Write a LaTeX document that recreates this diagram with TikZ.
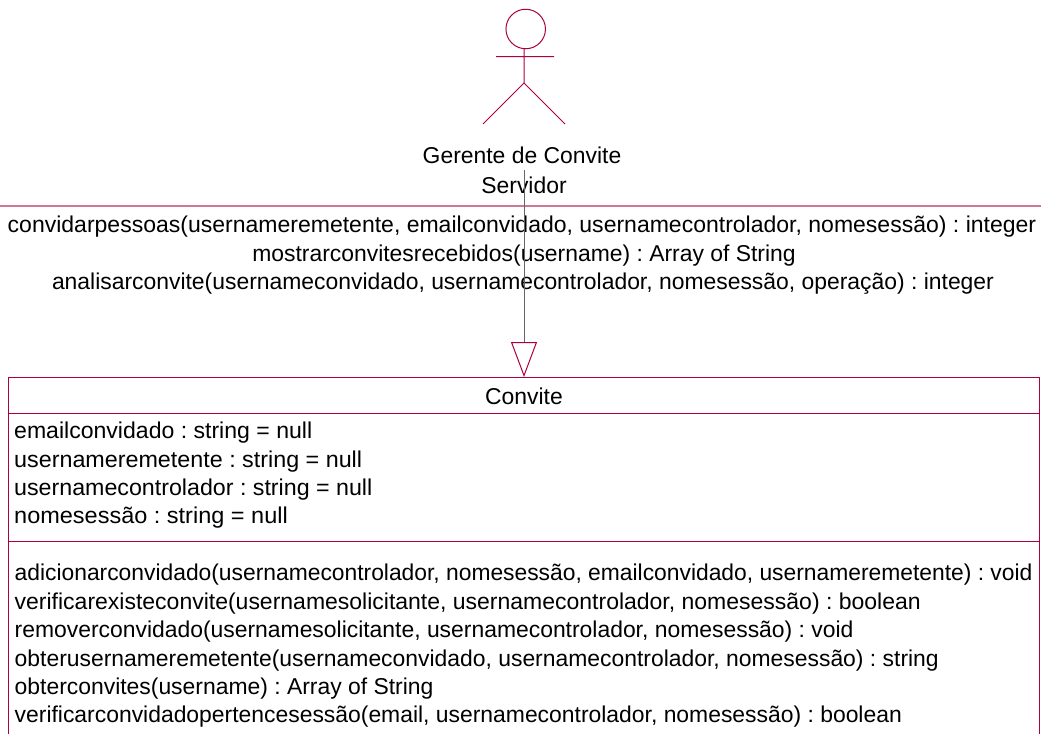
\documentclass[tikz,border=0pt]{standalone}
\usepackage{fontspec}
\usepackage{graphicx}
\setmainfont{Liberation Sans}
\usetikzlibrary{arrows.meta}
\definecolor{umlred}{RGB}{173,0,66}
\definecolor{softred}{RGB}{205,120,150}
\newcommand{\uf}{\frenchspacing\fontsize{22.9}{23}\selectfont}
\tikzset{
  x=1pt,y=-1pt,
  shapeline/.style={draw=umlred,line width=1pt},
  softline/.style={draw=softred,line width=1.3pt},
  txt/.style={inner sep=0pt,font=\uf,text=black,anchor=base},
  ltxt/.style={inner sep=0pt,font=\uf,text=black,anchor=base west},
  link/.style={draw=black!60,line width=1pt,-{Triangle[open,length=35pt,width=26pt,color=umlred,fill=white,line width=1pt]}}
}
\begin{document}
\begin{tikzpicture}
\useasboundingbox (0,0) rectangle (1041,734);
% actor
\node[circle,draw=umlred,line width=1pt,minimum size=39.5pt,inner sep=0pt] (head) at (525.7,29) {};
\coordinate (neck) at (524,49);
\coordinate (hip) at (524,83);
\coordinate (armL) at (496,56.5);
\coordinate (armR) at (554,56.5);
\coordinate (footL) at (483,124);
\coordinate (footR) at (565,124);
\draw[shapeline] (neck) -- (hip) (armL) -- (armR) (footL) -- (hip) -- (footR);
\node[txt] (actorname) at (522,163) {Gerente de Convite};
% Servidor (interface)
\node[txt] (srvname) at (524,193.5) {Servidor};
\coordinate (srvL) at (0,206);
\coordinate (srvR) at (1041,206);
\draw[softline] (srvL) -- (srvR);
\node[txt] (m1) at (522,232) {\scalebox{1.005}[1]{convidarpessoas(usernameremetente, emailconvidado, usernamecontrolador, nomesessão) : integer}};
\node[txt] (m2) at (524,261) {mostrarconvitesrecebidos(username) : Array of String};
\node[txt] (m3) at (523,289.5) {analisarconvite(usernameconvidado, usernamecontrolador, nomesessão, operação) : integer};
% class box
\coordinate (tl) at (8,734);
\coordinate (tt) at (8,377);
\coordinate (tr) at (1039,377);
\coordinate (br) at (1039,734);
\draw[shapeline] (tl) -- (tt) -- (tr) -- (br);
\coordinate (s1L) at (8,413);
\coordinate (s1R) at (1039,413);
\coordinate (s2L) at (8,541);
\coordinate (s2R) at (1039,541);
\draw[shapeline] (s1L) -- (s1R) (s2L) -- (s2R);
\node[txt] (cname) at (524,404.5) {Convite};
\node[ltxt] (a1) at (14,438.5) {\scalebox{1.007}[1]{emailconvidado : string = null}};
\node[ltxt] (a2) at (14,467) {\scalebox{1.018}[1]{usernameremetente : string = null}};
\node[ltxt] (a3) at (14,495.5) {\scalebox{1.014}[1]{usernamecontrolador : string = null}};
\node[ltxt] (a4) at (14,523.5) {\scalebox{1.026}[1]{nomesessão : string = null}};
\node[ltxt] (o1) at (14.5,580.5) {\scalebox{0.997}[1]{adicionarconvidado(usernamecontrolador, nomesessão, emailconvidado, usernameremetente) : void}};
\node[ltxt] (o2) at (14.5,609) {\scalebox{1.004}[1]{verificarexisteconvite(usernamesolicitante, usernamecontrolador, nomesessão) : boolean}};
\node[ltxt] (o3) at (14.5,637.5) {removerconvidado(usernamesolicitante, usernamecontrolador, nomesessão) : void};
\node[ltxt] (o4) at (14.5,666) {obterusernameremetente(usernameconvidado, usernamecontrolador, nomesessão) : string};
\node[ltxt] (o5) at (14.5,694.5) {obterconvites(username) : Array of String};
\node[ltxt] (o6) at (14.5,722.5) {verificarconvidadopertencesessão(email, usernamecontrolador, nomesessão) : boolean};
% generalisation
\coordinate (linkstart) at (524,170);
\coordinate (linkend) at (524,377);
\draw[link] (linkstart) -- (linkend);
\end{tikzpicture}
\end{document}
